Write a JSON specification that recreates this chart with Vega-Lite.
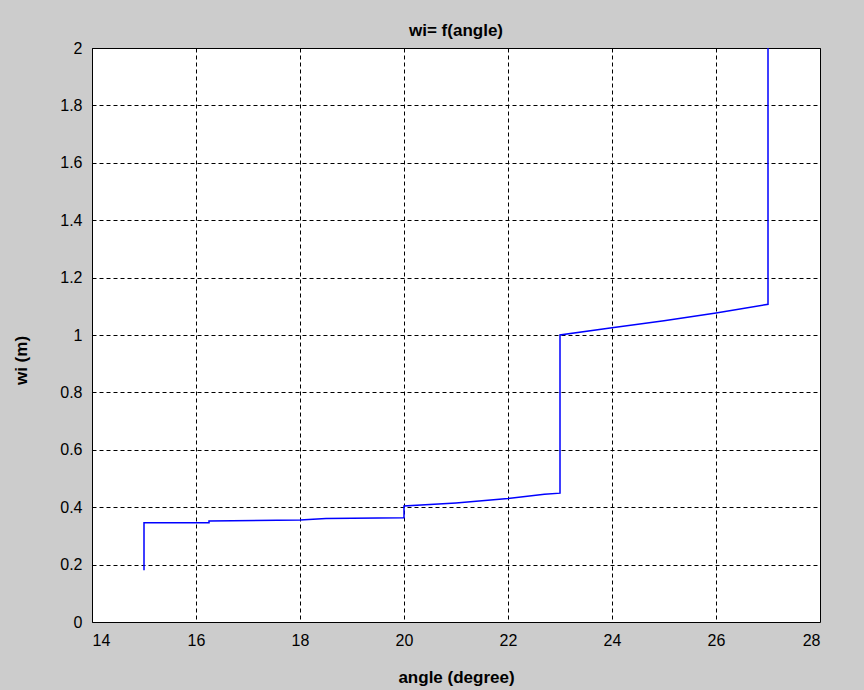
{
  "$schema": "https://vega.github.io/schema/vega-lite/v6.json",
  "width": 728,
  "height": 574,
  "autosize": {"type": "none"},
  "padding": {"left": 92, "top": 48, "right": 44, "bottom": 68},
  "background": "#cccccc",
  "title": {"text": "wi= f(angle)", "font": "Liberation Sans", "fontSize": 17, "fontWeight": "bold", "color": "#000000", "offset": 0},
  "config": {
    "view": {"fill": "#ffffff", "stroke": "#000000", "strokeWidth": 1},
    "axis": {"labelFont": "Liberation Sans", "labelFontSize": 16, "labelColor": "#000000", "titleFont": "Liberation Sans", "titleFontSize": 17, "titleFontWeight": "bold", "titleColor": "#000000", "domain": false, "tickColor": "#000000", "gridColor": "#000000", "gridDash": [4, 3], "gridOpacity": 1, "gridWidth": 1}
  },
  "data": {"values": [
    {"i": 0, "angle": 15, "wi": 0.18},
    {"i": 1, "angle": 15, "wi": 0.346},
    {"i": 2, "angle": 16.25, "wi": 0.346},
    {"i": 3, "angle": 16.25, "wi": 0.352},
    {"i": 4, "angle": 18, "wi": 0.355},
    {"i": 5, "angle": 18.5, "wi": 0.361},
    {"i": 6, "angle": 20, "wi": 0.363},
    {"i": 7, "angle": 20, "wi": 0.404},
    {"i": 8, "angle": 21, "wi": 0.415},
    {"i": 9, "angle": 22, "wi": 0.43},
    {"i": 10, "angle": 22.7, "wi": 0.445},
    {"i": 11, "angle": 23, "wi": 0.449},
    {"i": 12, "angle": 23, "wi": 1.0},
    {"i": 13, "angle": 24, "wi": 1.025},
    {"i": 14, "angle": 25, "wi": 1.05},
    {"i": 15, "angle": 26, "wi": 1.077},
    {"i": 16, "angle": 27, "wi": 1.107},
    {"i": 17, "angle": 27, "wi": 2.0}
  ]},
  "layer": [
    {
      "mark": {"type": "line", "color": "#0000ff", "strokeWidth": 1.5, "clip": true},
      "encoding": {
        "x": {"field": "angle", "type": "quantitative", "scale": {"domain": [14, 28], "nice": false, "zero": false},
          "axis": {"title": "angle (degree)", "values": [14, 16, 18, 20, 22, 24, 26, 28], "tickSize": 0, "labelPadding": 10, "titlePadding": 21, "grid": true}},
        "y": {"field": "wi", "type": "quantitative", "scale": {"domain": [0, 2], "nice": false},
          "axis": {"title": "wi (m)", "values": [0, 0.2, 0.4, 0.6, 0.8, 1, 1.2, 1.4, 1.6, 1.8, 2], "labelExpr": "datum.value == 0 ? '0' : datum.value == 1 ? '1' : datum.value == 2 ? '2' : format(datum.value, '.1f')", "tickSize": 0, "labelPadding": 10, "titlePadding": 29, "titleY": 312, "grid": true}},
        "order": {"field": "i", "type": "quantitative"}
      }
    }
  ]
}
